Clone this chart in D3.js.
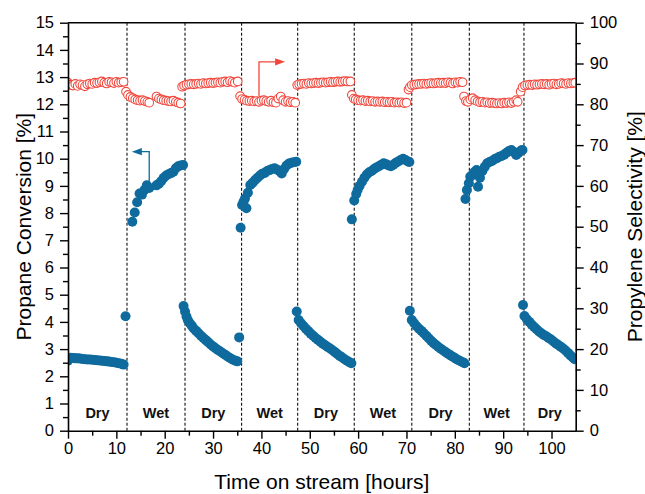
<!DOCTYPE html>
<html>
<head>
<meta charset="utf-8">
<script src="https://cdn.jsdelivr.net/npm/d3@7"></script>
<style>
  html, body { margin: 0; padding: 0; background: #fff; }
  svg { display: block; font-family: "Liberation Sans", Arial, sans-serif; }
</style>
</head>
<body>
<svg id="chart" width="645" height="494"></svg>
<script>
// Propane conversion (left axis, %) — filled markers
const convHours = [
  0,0.5,1,1.5,2,2.5,3,3.5,4,4.5,5,5.5,6,6.5,7,7.5,8,8.5,9,9.5,10,10.5,11,11.5,11.9,
  13.3,13.8,14.3,14.8,15.3,15.8,16.3,16.8,18.3,18.8,19.3,19.8,20.3,20.8,21.3,21.8,22.3,22.8,23.3,23.8,
  23.9,24.2,24.5,24.8,25.2,25.6,26.0,26.5,27.0,27.5,28.0,28.5,29.0,29.5,30.0,30.5,31.0,31.5,32.0,32.5,33.0,33.5,34.0,34.5,35.0,35.4,
  35.7,36.0,36.3,36.6,36.9,37.2,37.7,38.2,38.7,39.2,39.7,40.2,40.7,41.2,41.7,42.2,42.7,43.2,43.7,44.2,44.7,45.2,45.7,46.2,46.7,47.2,
  47.3,47.7,48.2,48.7,49.2,49.7,50.2,50.7,51.2,51.7,52.2,52.7,53.2,53.7,54.2,54.7,55.2,55.7,56.2,56.7,57.2,57.7,58.2,58.6,
  58.7,59.2,59.6,59.9,60.3,60.8,61.3,61.8,62.3,62.8,63.3,63.8,64.3,64.8,65.3,65.8,66.3,66.8,67.3,67.8,68.3,68.8,69.3,69.8,70.3,70.6,
  70.7,71.1,71.6,72.1,72.6,73.1,73.6,74.1,74.6,75.1,75.6,76.1,76.6,77.1,77.6,78.1,78.6,79.1,79.6,80.1,80.6,81.1,81.6,82.0,
  82.2,82.5,82.9,83.2,83.6,84.0,84.5,84.8,85.2,85.7,86.2,86.7,87.2,87.7,88.2,88.7,89.2,89.7,90.2,90.7,91.2,91.7,92.2,92.7,93.2,93.7,94.0,
  94.1,94.4,94.9,95.4,95.9,96.4,96.9,97.4,97.9,98.4,98.9,99.4,99.9,100.4,100.9,101.4,101.9,102.4,102.9,103.4,103.9,104.4,104.8
];
const conversion = [
  2.57,2.68,2.67,2.66,2.66,2.65,2.64,2.63,2.62,2.62,2.61,2.60,2.59,2.58,2.57,2.56,2.55,2.54,2.53,2.52,2.50,2.48,2.46,2.43,4.21,
  7.68,8.02,8.40,8.72,8.68,8.85,9.02,8.92,9.02,9.08,9.18,9.30,9.38,9.43,9.47,9.52,9.65,9.72,9.75,9.77,
  4.58,4.38,4.20,4.06,3.95,3.86,3.76,3.67,3.58,3.49,3.41,3.33,3.25,3.17,3.10,3.03,2.97,2.91,2.85,2.79,2.73,2.67,2.62,2.58,2.55,3.43,
  7.46,8.30,8.42,8.54,8.18,8.75,9.03,9.12,9.22,9.30,9.38,9.45,9.48,9.55,9.58,9.62,9.65,9.60,9.55,9.46,9.62,9.75,9.82,9.85,9.87,9.89,
  4.38,4.07,3.95,3.85,3.75,3.66,3.57,3.49,3.41,3.34,3.27,3.20,3.14,3.08,3.02,2.96,2.89,2.82,2.75,2.69,2.63,2.57,2.52,2.48,
  7.77,8.46,8.70,8.85,9.00,9.15,9.30,9.42,9.50,9.55,9.62,9.68,9.72,9.78,9.83,9.80,9.75,9.72,9.78,9.85,9.90,9.95,10.00,9.95,9.90,9.88,
  4.41,4.07,3.95,3.84,3.75,3.67,3.58,3.49,3.40,3.31,3.22,3.15,3.08,3.01,2.95,2.89,2.83,2.77,2.72,2.66,2.61,2.56,2.52,2.48,
  8.52,8.85,9.10,9.34,9.40,9.50,9.58,8.97,9.30,9.55,9.70,9.83,9.88,9.92,9.98,10.02,10.07,10.10,10.15,10.22,10.28,10.32,10.25,10.14,10.22,10.30,10.32,
  4.62,4.22,4.10,4.00,3.90,3.81,3.73,3.65,3.58,3.52,3.47,3.41,3.35,3.28,3.21,3.15,3.09,3.02,2.95,2.86,2.77,2.69,2.63
];

// Propylene selectivity (right axis, %) — open markers
const selHours = [
  0,0.5,1,1.5,2,2.5,3,3.5,4,4.5,5,5.5,6,6.5,7,7.5,8,8.5,9,9.5,10,10.5,11,11.5,
  12.0,12.4,12.9,13.4,13.9,14.4,14.9,15.4,15.9,16.4,16.8,18.3,18.8,19.3,19.8,20.3,20.8,21.3,21.8,22.3,22.8,23.3,
  23.6,24.0,24.5,25.0,25.5,26.0,26.5,27.0,27.5,28.0,28.5,29.0,29.5,30.0,30.5,31.0,31.5,32.0,32.5,33.0,33.5,34.0,34.5,35.1,
  35.6,36.0,36.5,37.0,37.5,38.0,38.5,39.0,39.5,40.0,40.5,41.0,41.5,42.0,42.5,43.0,43.5,44.0,44.5,45.0,45.5,46.0,46.5,47.0,
  47.4,47.8,48.3,48.8,49.3,49.8,50.3,50.8,51.3,51.8,52.3,52.8,53.3,53.8,54.3,54.8,55.3,55.8,56.3,56.8,57.3,57.8,58.4,
  58.7,59.1,59.5,60.0,60.5,61.0,61.5,62.0,62.5,63.0,63.5,64.0,64.5,65.0,65.5,66.0,66.5,67.0,67.5,68.0,68.5,69.0,69.5,70.0,
  70.4,70.7,71.1,71.6,72.1,72.6,73.1,73.6,74.1,74.6,75.1,75.6,76.1,76.6,77.1,77.6,78.1,78.6,79.1,79.6,80.1,80.6,81.1,81.6,
  81.9,82.3,82.7,83.2,83.7,84.2,84.7,85.2,85.7,86.2,86.7,87.2,87.7,88.2,88.7,89.2,89.7,90.2,90.7,91.2,91.7,92.2,92.7,93.0,
  93.6,94.0,94.5,95.0,95.5,96.0,96.5,97.0,97.5,98.0,98.5,99.0,99.5,100.0,100.5,101.0,101.5,102.0,102.5,103.0,103.5,104.0,104.5,104.9
];
const selectivity = [
  85.3,84.8,84.6,85.0,84.5,84.9,84.7,84.4,84.9,85.1,85.0,85.3,85.2,85.4,85.6,85.3,85.1,85.5,85.4,85.2,85.5,85.3,85.4,85.5,
  83.1,82.3,81.8,81.5,81.2,81.0,80.9,81.0,80.8,80.6,80.4,81.9,81.4,81.2,81.0,80.9,80.8,80.7,80.9,80.6,80.4,80.2,
  84.3,84.6,84.8,84.9,85.0,84.9,85.0,85.1,85.0,85.2,85.1,85.2,85.3,85.2,85.3,85.4,85.3,85.5,85.6,85.4,85.7,85.5,85.3,85.6,
  82.0,81.3,81.1,80.9,80.8,80.9,80.7,80.8,80.6,80.9,81.0,80.8,80.6,80.9,80.5,80.4,81.4,81.9,81.0,80.6,80.8,80.5,80.6,80.4,
  84.7,84.9,85.0,85.1,85.0,85.2,85.1,85.2,85.3,85.2,85.3,85.4,85.3,85.4,85.5,85.4,85.5,85.6,85.5,85.6,85.7,85.6,85.6,
  82.3,81.4,81.2,81.0,80.9,81.0,80.8,80.9,80.7,80.8,80.6,80.7,80.6,80.7,80.5,80.6,80.5,80.6,80.4,80.5,80.4,80.5,80.3,80.4,
  83.6,84.2,84.7,84.8,84.9,85.0,85.0,85.1,85.0,85.1,85.2,85.1,85.2,85.3,85.2,85.3,85.2,85.4,85.3,85.1,85.4,85.3,85.5,85.4,
  81.9,80.8,80.6,81.2,81.5,81.0,80.7,80.5,80.6,80.4,80.5,80.3,80.4,80.3,80.2,80.3,80.2,80.4,80.3,80.5,80.3,80.6,81.0,80.6,
  83.1,84.2,84.6,84.7,84.8,84.7,84.9,84.8,84.9,85.0,84.9,85.0,84.8,85.0,85.1,84.9,85.0,85.2,85.1,85.0,85.2,85.1,85.2,85.3
];

// Feed switches (dry <-> wet) and the phase names between them
const switchHours = [12.2, 24.2, 35.9, 47.5, 59.2, 71.1, 83.0, 94.3];
const phaseNames = ["Dry", "Wet", "Dry", "Wet", "Dry", "Wet", "Dry", "Wet", "Dry"];

// Axis ticks
const xTicks = [0, 10, 20, 30, 40, 50, 60, 70, 80, 90, 100];
const leftTicks = [0,1,2,3,4,5,6,7,8,9,10,11,12,13,14,15];
const rightTicks = [0,10,20,30,40,50,60,70,80,90,100];

// Axis-pointer arrows, in data units
const convArrow = { hour: 16.8, from: 9.05, to: 10.26, tipHour: 13.2 };   // left axis
const selArrow = { hour: 39.5, from: 82.0, to: 90.4, tipHour: 44.9 };     // right axis

const W = 645, H = 494;
const margin = { top: 22.7, right: 69.3, bottom: 63.3, left: 68 };
const iw = W - margin.left - margin.right;
const ih = H - margin.top - margin.bottom;

const blue = "#0f6a9d";
const red = "#f0473d";

const svg = d3.select("#chart");
const g = svg.append("g").attr("transform", `translate(${margin.left},${margin.top})`);

const x = d3.scaleLinear().domain([0, 105]).range([0, iw]);
const yL = d3.scaleLinear().domain([0, 15]).range([ih, 0]);
const yR = d3.scaleLinear().domain([0, 100]).range([ih, 0]);

svg.append("defs").append("clipPath").attr("id", "plot-clip")
  .append("rect").attr("x", 0).attr("y", 0).attr("width", iw).attr("height", ih);

// dashed switch lines
g.append("g").selectAll("line").data(switchHours).join("line")
  .attr("x1", d => x(d)).attr("x2", d => x(d))
  .attr("y1", 0).attr("y2", ih)
  .attr("stroke", "#111").attr("stroke-width", 1.1)
  .attr("stroke-dasharray", "3,2");

// phase labels centred in each interval
const bounds = [0, ...switchHours, 105];
g.append("g").selectAll("text").data(phaseNames).join("text")
  .attr("x", (d, i) => x((bounds[i] + bounds[i + 1]) / 2))
  .attr("y", yL(0.65))
  .attr("dy", "0.35em")
  .attr("text-anchor", "middle")
  .attr("font-weight", "bold")
  .attr("font-size", 14.5)
  .attr("fill", "#111")
  .text(d => d);

const plot = g.append("g").attr("clip-path", "url(#plot-clip)");

// conversion points
plot.append("g").selectAll("circle").data(conversion).join("circle")
  .attr("cx", (d, i) => x(convHours[i]))
  .attr("cy", d => yL(d))
  .attr("r", 5)
  .attr("fill", blue);

// selectivity points
plot.append("g").selectAll("circle").data(selectivity).join("circle")
  .attr("cx", (d, i) => x(selHours[i]))
  .attr("cy", d => yR(d))
  .attr("r", 4.3)
  .attr("fill", "#fff")
  .attr("stroke", red)
  .attr("stroke-width", 1.1);

// arrows pointing at the axis each series belongs to
function arrow(color, hx, y0, y1, tipX, dir) {
  const p = d3.path();
  p.moveTo(hx, y0); p.lineTo(hx, y1); p.lineTo(tipX - dir * 8, y1);
  g.append("path").attr("d", p.toString())
    .attr("fill", "none").attr("stroke", color).attr("stroke-width", 1.3);
  const h = d3.path();
  h.moveTo(tipX, y1); h.lineTo(tipX - dir * 10, y1 - 3.6); h.lineTo(tipX - dir * 10, y1 + 3.6); h.closePath();
  g.append("path").attr("d", h.toString()).attr("fill", color);
}
arrow(blue, x(convArrow.hour), yL(convArrow.from), yL(convArrow.to), x(convArrow.tipHour), -1);
arrow(red, x(selArrow.hour), yR(selArrow.from), yR(selArrow.to), x(selArrow.tipHour), 1);

// axes
const axisFont = 16.5;
function styleAxis(sel) {
  sel.selectAll("path.domain").attr("stroke", "#000").attr("stroke-width", 1.6);
  sel.selectAll(".tick line").attr("stroke", "#000").attr("stroke-width", 1.4);
  sel.selectAll(".tick text").attr("font-size", axisFont).attr("fill", "#000")
    .attr("font-family", "'Liberation Sans', Arial, sans-serif");
}

// minor ticks
const xMinor = d3.range(5, 105, 10);
const leftMinor = d3.range(0.5, 15, 1);
const rightMinor = d3.range(5, 100, 10);

g.append("g").attr("transform", `translate(0,${ih})`)
  .call(d3.axisBottom(x).tickValues(xMinor).tickSize(5).tickFormat(""))
  .call(s => { s.select(".domain").remove(); s.selectAll("line").attr("stroke", "#000").attr("stroke-width", 1.4); });
g.append("g")
  .call(d3.axisLeft(yL).tickValues(leftMinor).tickSize(5).tickFormat(""))
  .call(s => { s.select(".domain").remove(); s.selectAll("line").attr("stroke", "#000").attr("stroke-width", 1.4); });
g.append("g").attr("transform", `translate(${iw},0)`)
  .call(d3.axisRight(yR).tickValues(rightMinor).tickSize(5).tickFormat(""))
  .call(s => { s.select(".domain").remove(); s.selectAll("line").attr("stroke", "#000").attr("stroke-width", 1.4); });

g.append("g").attr("transform", `translate(0,${ih})`)
  .call(d3.axisBottom(x).tickValues(xTicks).tickSize(8).tickSizeOuter(0).tickPadding(4).tickFormat(d3.format("d")))
  .call(styleAxis);
g.append("g")
  .call(d3.axisLeft(yL).tickValues(leftTicks).tickSize(8).tickSizeOuter(0).tickPadding(6).tickFormat(d3.format("d")))
  .call(styleAxis);
g.append("g").attr("transform", `translate(${iw},0)`)
  .call(d3.axisRight(yR).tickValues(rightTicks).tickSize(8).tickSizeOuter(0).tickPadding(6).tickFormat(d3.format("d")))
  .call(styleAxis);

// top frame line
g.append("line").attr("x1", 0).attr("x2", iw).attr("y1", 0).attr("y2", 0)
  .attr("stroke", "#000").attr("stroke-width", 1.6);

// axis titles
const titleFont = 21;
svg.append("text")
  .attr("x", margin.left + iw / 2).attr("y", 489)
  .attr("text-anchor", "middle").attr("font-size", titleFont).attr("fill", "#000")
  .text("Time on stream [hours]");
svg.append("text")
  .attr("transform", `translate(31,${margin.top + ih / 2}) rotate(-90)`)
  .attr("text-anchor", "middle").attr("font-size", titleFont).attr("fill", "#000")
  .text("Propane Conversion [%]");
svg.append("text")
  .attr("transform", `translate(642,${margin.top + ih / 2}) rotate(-90)`)
  .attr("text-anchor", "middle").attr("font-size", titleFont).attr("fill", "#000")
  .text("Propylene Selectivity [%]");
</script>
</body>
</html>
